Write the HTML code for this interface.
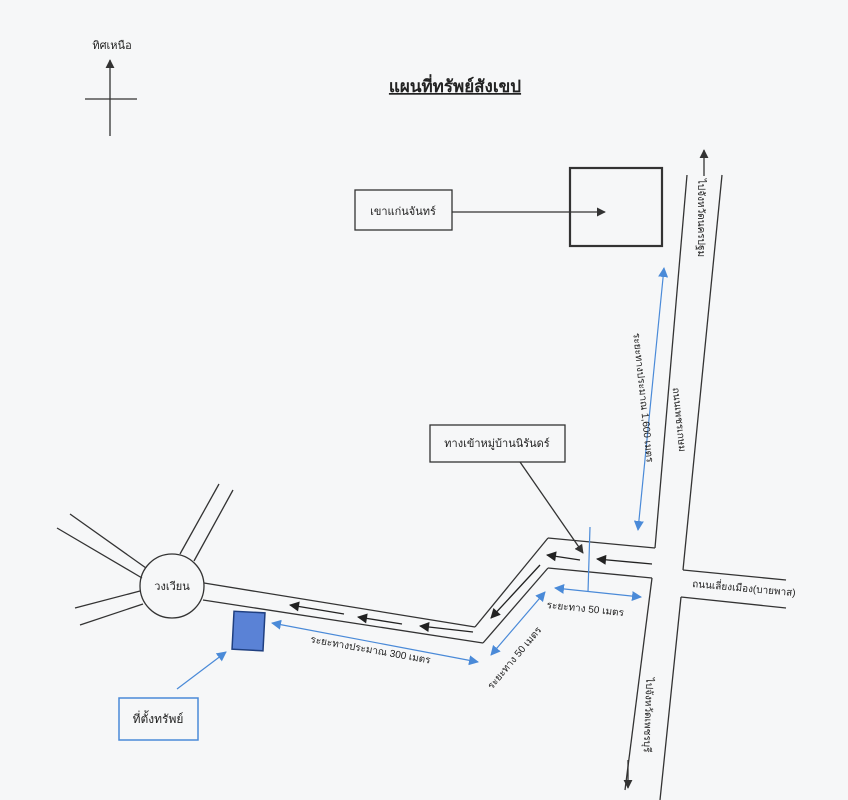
<!DOCTYPE html>
<html><head><meta charset="utf-8"><style>
html,body{margin:0;padding:0;background:#f6f7f8;}
svg{display:block;font-family:"Liberation Sans","Noto Sans CJK SC","WenQuanYi Zen Hei",sans-serif;}
</style></head><body>
<svg width="848" height="800" viewBox="0 0 848 800" xmlns="http://www.w3.org/2000/svg">
<defs>
<marker id="ab" viewBox="0 0 10 10" refX="9" refY="5" markerWidth="9" markerHeight="9" orient="auto-start-reverse" markerUnits="userSpaceOnUse"><path d="M0,0L10,5L0,10z" fill="#333"/></marker>
<marker id="abl" viewBox="0 0 10 10" refX="9" refY="5" markerWidth="10" markerHeight="10" orient="auto-start-reverse" markerUnits="userSpaceOnUse"><path d="M0,0L10,5L0,10z" fill="#4a8ad8"/></marker>
<marker id="ak" viewBox="0 0 10 10" refX="9" refY="5" markerWidth="12" markerHeight="10" orient="auto" markerUnits="userSpaceOnUse"><path d="M0,0L10,5L0,10z" fill="#222"/></marker>
</defs>
<g stroke="#333" stroke-width="1.3" fill="none">
<line x1="110" y1="136" x2="110" y2="60" marker-end="url(#ab)"/>
<line x1="85" y1="99" x2="137" y2="99"/>
<line x1="687" y1="175" x2="655" y2="548"/>
<line x1="722" y1="175" x2="683" y2="570"/>
<line x1="652" y1="578" x2="625" y2="790"/>
<line x1="681" y1="597" x2="660" y2="800"/>
<line x1="683" y1="570" x2="786" y2="580"/>
<line x1="681" y1="597" x2="786" y2="608"/>
<line x1="548" y1="538" x2="655" y2="548"/>
<line x1="548" y1="568" x2="652" y2="578"/>
<line x1="548" y1="538" x2="475" y2="627"/>
<line x1="548" y1="568" x2="483" y2="643"/>
<line x1="204" y1="583" x2="475" y2="627"/>
<line x1="203" y1="600" x2="483" y2="643"/>
<circle cx="172" cy="586" r="32"/>
<line x1="180" y1="554" x2="219" y2="484"/>
<line x1="194" y1="561" x2="233" y2="490"/>
<line x1="146" y1="568" x2="70" y2="514"/>
<line x1="142" y1="578" x2="57" y2="528"/>
<line x1="140" y1="591" x2="75" y2="608"/>
<line x1="143" y1="604" x2="80" y2="625"/>
<rect x="355" y="190" width="97" height="40"/>
<line x1="452" y1="212" x2="605" y2="212" marker-end="url(#ab)"/>
<rect x="430" y="425" width="135" height="37"/>
<line x1="520" y1="462" x2="583" y2="553" marker-end="url(#ab)"/>
<line x1="704" y1="176" x2="704" y2="150" marker-end="url(#ab)"/>
<line x1="628" y1="760" x2="628" y2="788" marker-end="url(#ab)"/>
</g>
<rect x="570" y="168" width="92" height="78" fill="none" stroke="#333" stroke-width="2.2"/>
<g stroke="#222" stroke-width="1.3" fill="none">
<line x1="344" y1="614" x2="290" y2="605" marker-end="url(#ak)"/>
<line x1="402" y1="624" x2="358" y2="617" marker-end="url(#ak)"/>
<line x1="473" y1="632" x2="420" y2="626" marker-end="url(#ak)"/>
<line x1="540" y1="565" x2="491" y2="618" marker-end="url(#ak)"/>
<line x1="580" y1="560" x2="547" y2="555" marker-end="url(#ak)"/>
<line x1="652" y1="564" x2="597" y2="559" marker-end="url(#ak)"/>
</g>
<g stroke="#4a8ad8" stroke-width="1.2" fill="none">
<line x1="664" y1="268" x2="638" y2="530" marker-start="url(#abl)" marker-end="url(#abl)"/>
<line x1="590" y1="527" x2="588" y2="592"/>
<line x1="555" y1="588" x2="641" y2="597" marker-start="url(#abl)" marker-end="url(#abl)"/>
<line x1="545" y1="592" x2="491" y2="655" marker-start="url(#abl)" marker-end="url(#abl)"/>
<line x1="272" y1="623" x2="478" y2="662" marker-start="url(#abl)" marker-end="url(#abl)"/>
<line x1="177" y1="689" x2="226" y2="652" marker-end="url(#abl)"/>
<rect x="119" y="698" width="79" height="42" stroke="#4a8ad8" stroke-width="1.5"/>
</g>
<rect x="233" y="612" width="31" height="38" fill="#5a82d6" stroke="#1f3f80" stroke-width="1.5" transform="rotate(3 248 631)"/>
<g fill="#222" font-size="11">
<text x="112" y="49" text-anchor="middle">ทิศเหนือ</text>
<text x="455" y="92" text-anchor="middle" font-size="17" font-weight="bold" text-decoration="underline">แผนที่ทรัพย์สังเขป</text>
<text x="403" y="215" text-anchor="middle">เขาแก่นจันทร์</text>
<text x="497" y="447" text-anchor="middle">ทางเข้าหมู่บ้านนิรันดร์</text>
<text x="172" y="590" text-anchor="middle">วงเวียน</text>
<text x="158" y="723" text-anchor="middle" font-size="12">ที่ตั้งทรัพย์</text>
<text x="0" y="0" text-anchor="middle" font-size="10" transform="translate(370 653) rotate(10)">ระยะทางประมาณ 300 เมตร</text>
<text x="0" y="0" text-anchor="middle" font-size="10" transform="translate(585 612) rotate(6)">ระยะทาง 50 เมตร</text>
<text x="0" y="0" text-anchor="middle" font-size="10" transform="translate(517 660) rotate(-50)">ระยะทาง 50 เมตร</text>
<text x="0" y="0" font-size="10" transform="translate(692 587) rotate(5)">ถนนเลี่ยงเมือง(บายพาส)</text>
<text x="0" y="0" text-anchor="middle" font-size="10" transform="translate(640 398) rotate(84)">ระยะทางประมาณ 1,600 เมตร</text>
<text x="0" y="0" text-anchor="middle" font-size="10" transform="translate(676 420) rotate(84)">ถนนเพชรเกษม</text>
<text x="0" y="0" text-anchor="middle" font-size="10" transform="translate(698 218) rotate(90)">ไปจังหวัดนครปฐม</text>
<text x="0" y="0" text-anchor="middle" font-size="10" transform="translate(645 715) rotate(92)">ไปจังหวัดเพชรบุรี</text>
</g>
</svg>
</body></html>
